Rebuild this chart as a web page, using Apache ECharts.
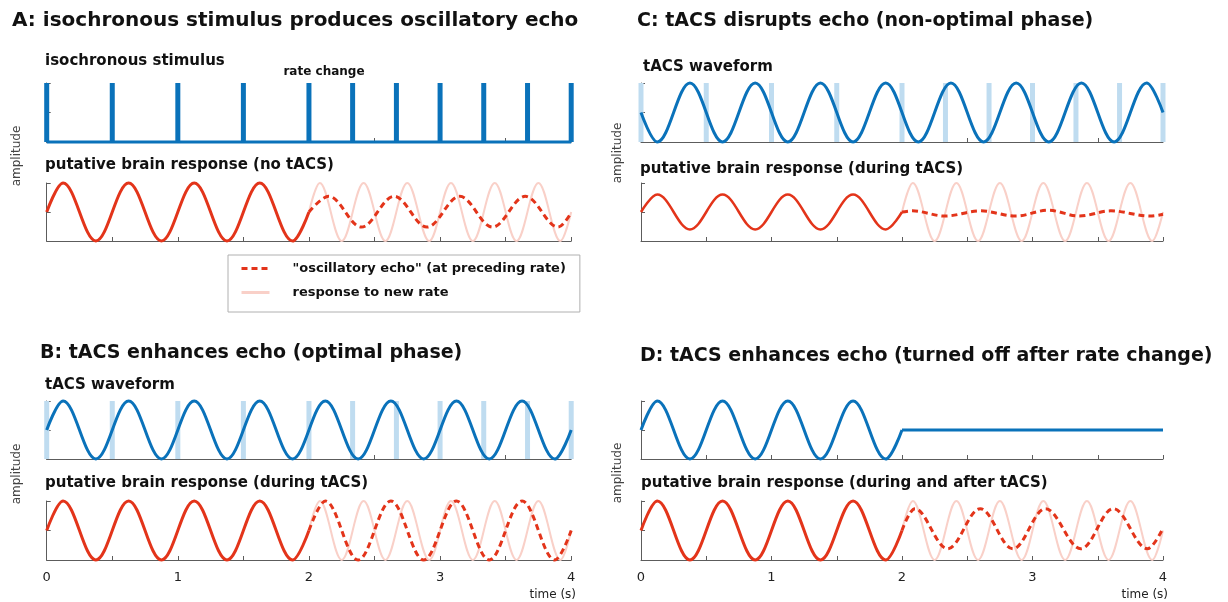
<!DOCTYPE html>
<html>
<head>
    <meta charset="utf-8">
    <title>tACS echo</title>
    <script src="https://cdn.jsdelivr.net/npm/echarts@6/dist/echarts.min.js"></script>
    <style>
        html, body { margin: 0; padding: 0; background: #ffffff; }
        #main { width: 1228px; height: 602px; }
    </style>
</head>
<body>
<div id="main"></div>
<script>
    // stimulus onsets (s): 2 Hz, then 3 Hz after the rate change at 2 s
    var stimTimes = [0, 0.5, 1, 1.5, 2, 2.333, 2.667, 3, 3.333, 3.667, 4];

    // peaks / troughs, [time, amplitude]
    var respBefore = [[0, 0.5], [0.125, 1], [0.375, 0], [0.625, 1], [0.875, 0], [1.125, 1], [1.375, 0], [1.625, 1], [1.875, 0], [2, 0.5]];
    var newRateResp = [[2, 0.5], [2.083, 1], [2.25, 0], [2.417, 1], [2.583, 0], [2.75, 1], [2.917, 0], [3.083, 1], [3.25, 0], [3.417, 1], [3.583, 0], [3.75, 1], [3.917, 0], [4, 0.5]];
    var echoA = [[2, 0.5], [2.15, 0.77], [2.4, 0.24], [2.65, 0.77], [2.9, 0.24], [3.15, 0.77], [3.4, 0.24], [3.65, 0.77], [3.9, 0.24], [4, 0.49]];

    var tacsB = [[0, 0.5], [0.125, 1], [0.375, 0], [0.625, 1], [0.875, 0], [1.125, 1], [1.375, 0], [1.625, 1], [1.875, 0], [2.125, 1], [2.375, 0], [2.625, 1], [2.875, 0], [3.125, 1], [3.375, 0], [3.625, 1], [3.875, 0], [4, 0.5]];
    var echoB = [[2, 0.5], [2.125, 1], [2.375, 0], [2.625, 1], [2.875, 0], [3.125, 1], [3.375, 0], [3.625, 1], [3.875, 0], [4, 0.5]];

    var tacsC = [[0, 0.5], [0.125, 0], [0.375, 1], [0.625, 0], [0.875, 1], [1.125, 0], [1.375, 1], [1.625, 0], [1.875, 1], [2.125, 0], [2.375, 1], [2.625, 0], [2.875, 1], [3.125, 0], [3.375, 1], [3.625, 0], [3.875, 1], [4, 0.5]];
    var respC = [[0, 0.5], [0.125, 0.8], [0.375, 0.2], [0.625, 0.8], [0.875, 0.2], [1.125, 0.8], [1.375, 0.2], [1.625, 0.8], [1.875, 0.2], [2, 0.5]];
    var echoC = [[2, 0.5], [2.08, 0.52], [2.33, 0.43], [2.6, 0.52], [2.87, 0.43], [3.12, 0.53], [3.36, 0.43], [3.6, 0.52], [3.9, 0.43], [4, 0.46]];

    var tacsD = [[0, 0.5], [0.125, 1], [0.375, 0], [0.625, 1], [0.875, 0], [1.125, 1], [1.375, 0], [1.625, 1], [1.875, 0], [2, 0.5]];
    var tacsOffD = [[2, 0.5], [4, 0.5]];
    var echoD = [[2, 0.5], [2.1, 0.87], [2.35, 0.19], [2.6, 0.87], [2.85, 0.19], [3.1, 0.87], [3.37, 0.19], [3.62, 0.87], [3.88, 0.19], [4, 0.54]];

    var xTicks = [0, 1, 2, 3, 4];

    var BLUE = '#0a72ba', RED = '#e3341a', PINK = '#f9d0c8', LIGHTBLUE = '#bfdcf0', AXIS = '#5c5c5c';
    var FONT = '"DejaVu Sans", Verdana, sans-serif';
    var ECHO = '"oscillatory echo" (at preceding rate)', NEWRATE = 'response to new rate';

    var chart = echarts.init(document.getElementById('main'), null, {renderer: 'canvas'});

    // grid boxes: A top/bottom, B top/bottom, C top/bottom, D top/bottom
    var boxes = [
        [46.7, 83, 524.5, 59], [46.7, 183, 524.5, 58],
        [46.7, 401, 524.5, 58], [46.7, 501, 524.5, 59],
        [641, 83, 522, 59], [641, 183, 522, 58],
        [641, 401, 522, 58], [641, 501, 522, 59]
    ];
    var labelled = [3, 7];

    var grids = [], xAxes = [], yAxes = [];
    boxes.forEach(function (b, i) {
        grids.push({left: b[0], top: b[1], width: b[2], height: b[3]});
        xAxes.push({
            type: 'value', gridIndex: i, min: 0, max: 4, interval: 0.5,
            axisLine: {show: true, onZero: false, lineStyle: {color: AXIS, width: 1}},
            axisTick: {show: true, inside: true, length: 4, lineStyle: {color: AXIS}},
            splitLine: {show: false},
            axisLabel: {
                show: labelled.indexOf(i) >= 0, margin: 11, color: '#222', fontSize: 13, fontFamily: FONT,
                formatter: function (v) { return xTicks.indexOf(v) >= 0 ? String(v) : ''; }
            }
        });
        yAxes.push({
            type: 'value', gridIndex: i, min: 0, max: 1, interval: 0.5,
            axisLine: {show: true, lineStyle: {color: AXIS, width: 1}},
            axisTick: {show: true, inside: true, length: 4, lineStyle: {color: AXIS}},
            splitLine: {show: false},
            axisLabel: {show: false}
        });
    });

    function wave(idx, data, color, width, name, dashed, z) {
        return {
            type: 'line', name: name, xAxisIndex: idx, yAxisIndex: idx, data: data,
            smooth: 0.36, showSymbol: false, symbol: 'none', clip: false, z: z || 3,
            lineStyle: {color: color, width: width, type: dashed ? [6, 4] : 'solid', cap: 'butt'},
            itemStyle: {color: color},
            animation: false, silent: true
        };
    }
    function flat(idx, data, color, width) {
        var s = wave(idx, data, color, width);
        s.smooth = false;
        return s;
    }
    function pulses(idx, color, width, z) {
        return {
            type: 'bar', xAxisIndex: idx, yAxisIndex: idx, barWidth: width, z: z,
            data: stimTimes.map(function (t) { return [t, 1]; }),
            itemStyle: {color: color}, animation: false, silent: true
        };
    }

    var series = [
        // A
        pulses(0, BLUE, 5, 3),
        flat(0, [[0, 0], [4, 0]], BLUE, 3),
        wave(1, newRateResp, PINK, 2, NEWRATE, false, 2),
        wave(1, respBefore, RED, 3),
        wave(1, echoA, RED, 3, ECHO, true),
        // B
        pulses(2, LIGHTBLUE, 5, 1),
        wave(2, tacsB, BLUE, 3),
        wave(3, newRateResp, PINK, 2, NEWRATE, false, 2),
        wave(3, respBefore, RED, 3),
        wave(3, echoB, RED, 3, ECHO, true),
        // C
        pulses(4, LIGHTBLUE, 5, 1),
        wave(4, tacsC, BLUE, 3),
        wave(5, newRateResp, PINK, 2, NEWRATE, false, 2),
        wave(5, respC, RED, 2.5),
        wave(5, echoC, RED, 3, ECHO, true),
        // D
        wave(6, tacsD, BLUE, 3),
        flat(6, tacsOffD, BLUE, 3),
        wave(7, newRateResp, PINK, 2, NEWRATE, false, 2),
        wave(7, respBefore, RED, 3),
        wave(7, echoD, RED, 3, ECHO, true)
    ];

    function txt(x, y, s, size, weight, opts) {
        opts = opts || {};
        return {
            type: 'text', x: x, y: y, rotation: opts.rotation || 0, silent: true,
            style: {
                text: s, fontSize: size, fontWeight: weight, fontFamily: FONT,
                fill: opts.color || '#111',
                textAlign: opts.align || 'left', align: opts.align || 'left',
                textVerticalAlign: 'middle', verticalAlign: 'middle'
            }
        };
    }

    var texts = [
        txt(12, 21, 'A: isochronous stimulus produces oscillatory echo', 20, 'bold'),
        txt(45, 61, 'isochronous stimulus', 15, 'bold'),
        txt(324, 72, 'rate change', 12, 'bold', {align: 'center'}),
        txt(45, 165, 'putative brain response (no tACS)', 15, 'bold'),
        txt(17, 156, 'amplitude', 12, 'normal', {rotation: Math.PI / 2, align: 'center', color: '#444'}),

        txt(40, 353, 'B: tACS enhances echo (optimal phase)', 19, 'bold'),
        txt(45, 385, 'tACS waveform', 15, 'bold'),
        txt(45, 483, 'putative brain response (during tACS)', 15, 'bold'),
        txt(17, 474, 'amplitude', 12, 'normal', {rotation: Math.PI / 2, align: 'center', color: '#444'}),
        txt(576, 595, 'time (s)', 12, 'normal', {align: 'right', color: '#222'}),

        txt(637, 21, 'C: tACS disrupts echo (non-optimal phase)', 19, 'bold'),
        txt(643, 67, 'tACS waveform', 15, 'bold'),
        txt(640, 169, 'putative brain response (during tACS)', 15, 'bold'),
        txt(618, 153, 'amplitude', 12, 'normal', {rotation: Math.PI / 2, align: 'center', color: '#444'}),

        txt(640, 356, 'D: tACS enhances echo (turned off after rate change)', 19, 'bold'),
        txt(641, 483, 'putative brain response (during and after tACS)', 15, 'bold'),
        txt(618, 473, 'amplitude', 12, 'normal', {rotation: Math.PI / 2, align: 'center', color: '#444'}),
        txt(1168, 595, 'time (s)', 12, 'normal', {align: 'right', color: '#222'})
    ];

    var option = {
        backgroundColor: '#ffffff',
        animation: false,
        grid: grids,
        xAxis: xAxes,
        yAxis: yAxes,
        legend: {
            data: [ECHO, NEWRATE],
            orient: 'vertical',
            left: 228, top: 255,
            padding: [7, 14, 13, 12],
            itemWidth: 28, itemHeight: 14, itemGap: 11,
            borderColor: '#b0b0b0', borderWidth: 1,
            selectedMode: false,
            itemStyle: {opacity: 0},
            lineStyle: {width: 3},
            textStyle: {fontFamily: FONT, fontSize: 13, fontWeight: 'bold', color: '#111', padding: [0, 0, 0, 18]}
        },
        graphic: texts,
        series: series
    };
    chart.setOption(option);
</script>
</body>
</html>
